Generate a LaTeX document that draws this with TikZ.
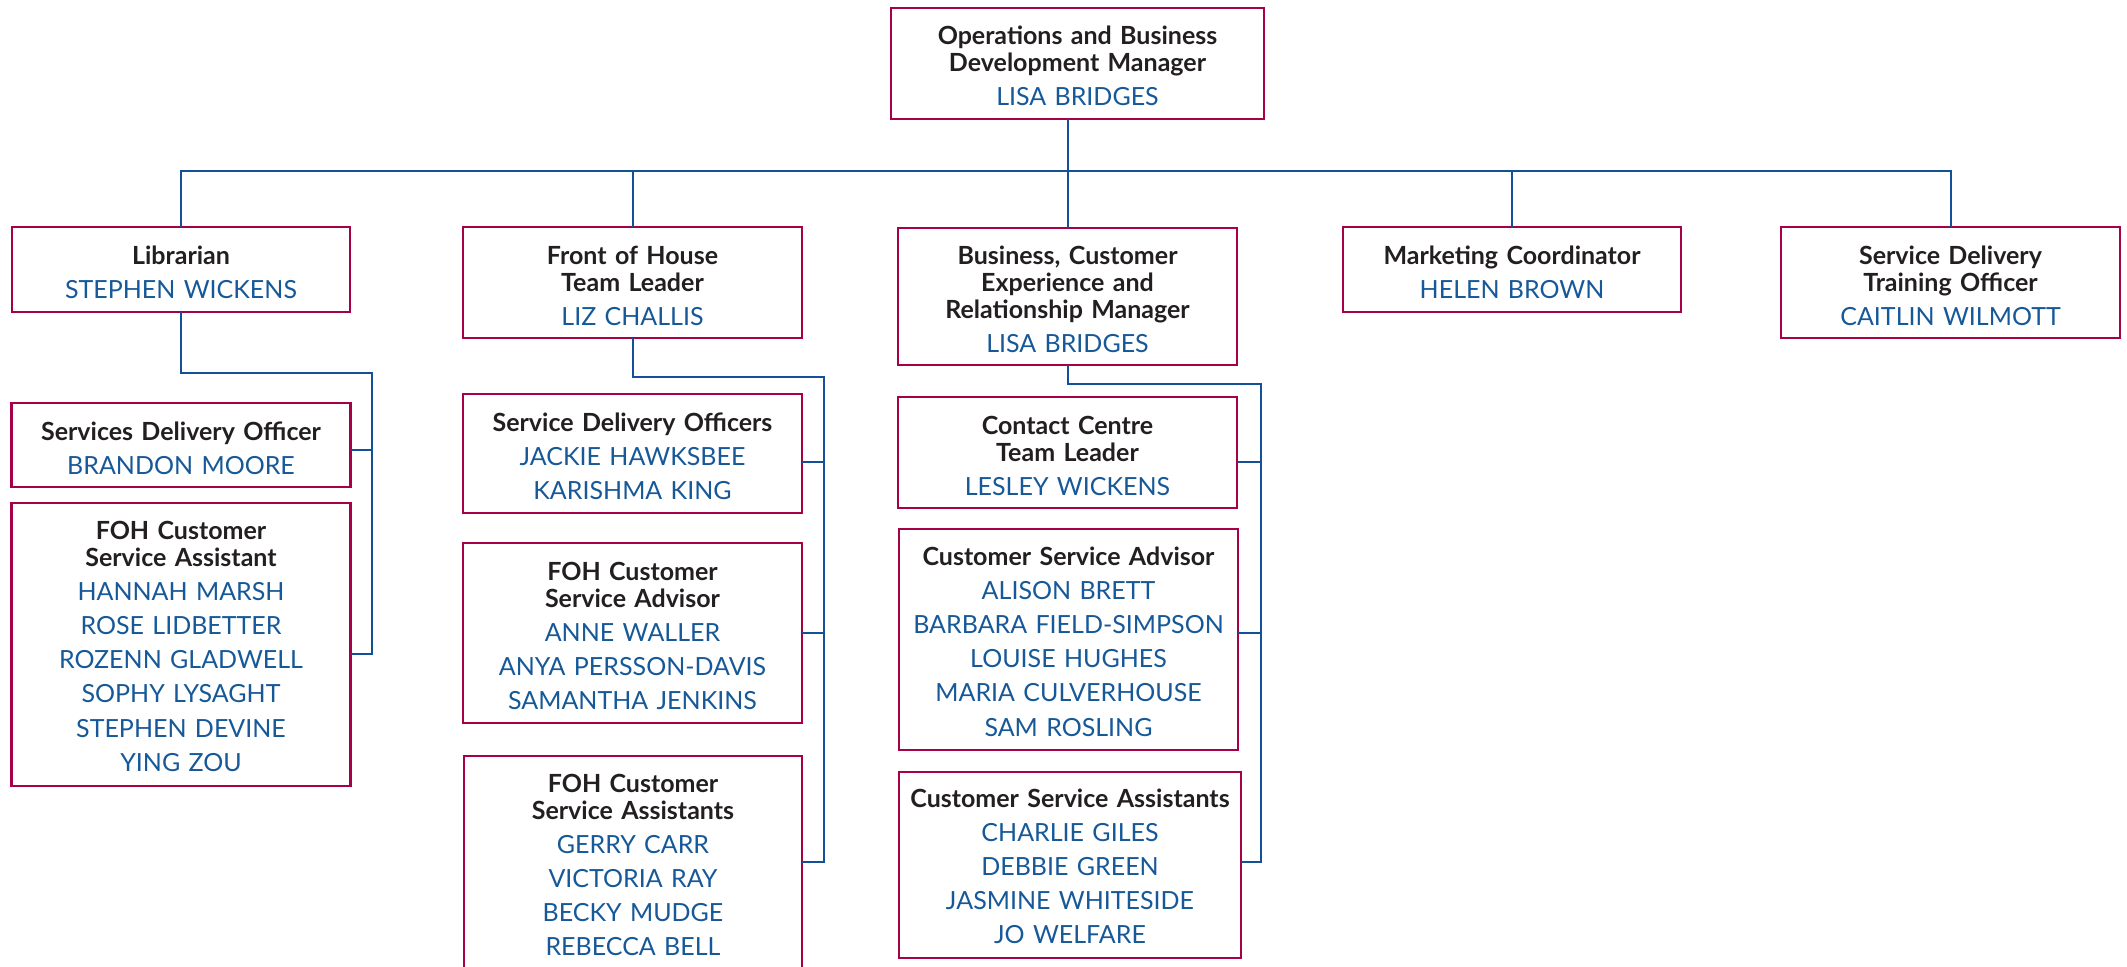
\documentclass[tikz,border=0pt]{standalone}
\usepackage{fontspec}
\setmainfont{Lato}
\definecolor{bordc}{RGB}{165,0,72}
\definecolor{namec}{RGB}{22,88,152}
\definecolor{linec}{RGB}{20,80,150}
\definecolor{titlec}{RGB}{35,31,32}
\newcommand\ptitle[1]{\textbf{#1}}
\newcommand\pname[1]{\textcolor{namec}{#1}}
\tikzset{
 orgbox/.style={draw=bordc, line width=1.2pt, rectangle, inner sep=0pt, outer sep=0pt},
 orgtext/.style={text width=170pt, align=center, inner sep=0pt, anchor=base, yshift=-1pt, text=titlec, font=\fontsize{12.5}{17.1}\selectfont},
 link/.style={draw=linec, line width=1pt}
}
\begin{document}
\begin{tikzpicture}[x=0.5pt,y=-0.5pt]
\useasboundingbox (0,0) rectangle (2127,966);
% boxes
\node[orgbox, minimum width=186.5pt, minimum height=55.5pt] (top) at (1077.5,63.5) {};
\node[orgbox, minimum width=169pt, minimum height=42.5pt] (lib) at (181,269.5) {};
\node[orgbox, minimum width=169.5pt, minimum height=55.5pt] (foh) at (632.5,282.5) {};
\node[orgbox, minimum width=169.5pt, minimum height=68.5pt] (bcm) at (1067.5,296.5) {};
\node[orgbox, minimum width=169pt, minimum height=42.5pt] (mkt) at (1512,269.5) {};
\node[orgbox, minimum width=169.5pt, minimum height=55.5pt] (sdt) at (1950.5,282.5) {};
\node[orgbox, minimum width=169.5pt, minimum height=42pt] (sdo) at (181,445) {};
\node[orgbox, minimum width=169.5pt, minimum height=141.5pt] (fcsa) at (181,644.5) {};
\node[orgbox, minimum width=169.5pt, minimum height=59.5pt] (sdos) at (632.5,453.5) {};
\node[orgbox, minimum width=169.5pt, minimum height=90pt] (fadv) at (632.5,633) {};
\node[orgbox, minimum width=169pt, minimum height=108pt] (fass) at (633,864) {};
\node[orgbox, minimum width=169.5pt, minimum height=55.5pt] (cctl) at (1067.5,452.5) {};
\node[orgbox, minimum width=169.5pt, minimum height=110.5pt] (cadv) at (1068.5,639.5) {};
\node[orgbox, minimum width=171pt, minimum height=93pt] (cass) at (1070,865) {};
% texts
\node[orgtext] (topt) at (1077.5,42) {\ptitle{Operations and Business}\\[-3.6pt]\ptitle{Development Manager}\\\pname{LISA BRIDGES}};
\node[orgtext] (libt) at (181,262) {\ptitle{Librarian}\\\pname{STEPHEN WICKENS}};
\node[orgtext] (foht) at (632.5,262) {\ptitle{Front of House}\\[-3.6pt]\ptitle{Team Leader}\\\pname{LIZ CHALLIS}};
\node[orgtext] (bcmt) at (1067.5,262) {\ptitle{Business, Customer}\\[-3.6pt]\ptitle{Experience and}\\[-3.6pt]\ptitle{Relationship Manager}\\\pname{LISA BRIDGES}};
\node[orgtext] (mktt) at (1512,262) {\ptitle{Marketing Coordinator}\\\pname{HELEN BROWN}};
\node[orgtext] (sdtt) at (1950.5,262) {\ptitle{Service Delivery}\\[-3.6pt]\ptitle{Training Officer}\\\pname{CAITLIN WILMOTT}};
\node[orgtext] (sdot) at (181,438) {\ptitle{Services Delivery Officer}\\\pname{BRANDON MOORE}};
\node[orgtext] (fcsat) at (181,537) {\ptitle{FOH Customer}\\[-3.6pt]\ptitle{Service Assistant}\\\pname{HANNAH MARSH}\\\pname{ROSE LIDBETTER}\\\pname{ROZENN GLADWELL}\\\pname{SOPHY LYSAGHT}\\\pname{STEPHEN DEVINE}\\\pname{YING ZOU}};
\node[orgtext] (sdost) at (632.5,429) {\ptitle{Service Delivery Officers}\\\pname{JACKIE HAWKSBEE}\\\pname{KARISHMA KING}};
\node[orgtext] (fadvt) at (632.5,578) {\ptitle{FOH Customer}\\[-3.6pt]\ptitle{Service Advisor}\\\pname{ANNE WALLER}\\\pname{ANYA PERSSON-DAVIS}\\\pname{SAMANTHA JENKINS}};
\node[orgtext] (fasst) at (633,790) {\ptitle{FOH Customer}\\[-3.6pt]\ptitle{Service Assistants}\\\pname{GERRY CARR}\\\pname{VICTORIA RAY}\\\pname{BECKY MUDGE}\\\pname{REBECCA BELL}};
\node[orgtext] (cctlt) at (1067.5,432) {\ptitle{Contact Centre}\\[-3.6pt]\ptitle{Team Leader}\\\pname{LESLEY WICKENS}};
\node[orgtext] (cadvt) at (1068.5,563) {\ptitle{Customer Service Advisor}\\\pname{ALISON BRETT}\\\pname{BARBARA FIELD-SIMPSON}\\\pname{LOUISE HUGHES}\\\pname{MARIA CULVERHOUSE}\\\pname{SAM ROSLING}};
\node[orgtext] (casst) at (1070,805) {\ptitle{Customer Service Assistants}\\\pname{CHARLIE GILES}\\\pname{DEBBIE GREEN}\\\pname{JASMINE WHITESIDE}\\\pname{JO WELFARE}};
% connectors
\coordinate (bus) at (1068,171);
\draw[link] (lib.north) -- (lib.north |- bus) -- (sdt.north |- bus) -- (sdt.north);
\draw[link] (foh.north) -- (foh.north |- bus);
\draw[link] (mkt.north) -- (mkt.north |- bus);
\draw[link] (bcm.north) -- (bcm.north |- top.south);
\coordinate (ra) at (372,373);
\coordinate (rb) at (372,654);
\coordinate (rc) at (372,450);
\draw[link] (lib.south) |- (ra) -- (rb) -- (rb -| fcsa.east);
\draw[link] (rc) -- (rc -| sdo.east);
\coordinate (fa) at (824,377);
\coordinate (fb) at (824,862);
\coordinate (fc) at (824,462);
\coordinate (fd) at (824,633);
\draw[link] (foh.south) |- (fa) -- (fb) -- (fb -| fass.east);
\draw[link] (fc) -- (fc -| sdos.east);
\draw[link] (fd) -- (fd -| fadv.east);
\coordinate (ca) at (1261,384);
\coordinate (cb) at (1261,862);
\coordinate (cc) at (1261,462);
\coordinate (cd) at (1261,633);
\draw[link] (bcm.south) |- (ca) -- (cb) -- (cb -| cass.east);
\draw[link] (cc) -- (cc -| cctl.east);
\draw[link] (cd) -- (cd -| cadv.east);
\end{tikzpicture}
\end{document}
